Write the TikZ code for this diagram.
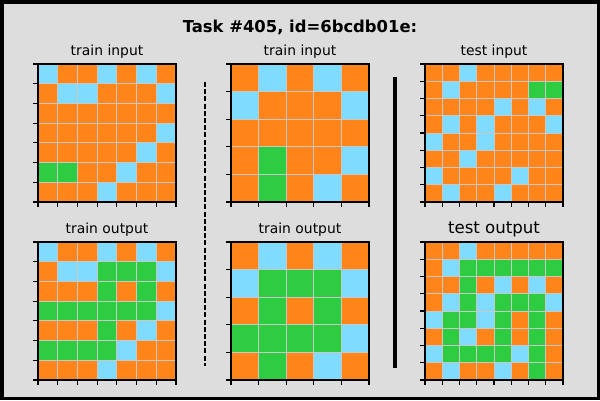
\documentclass[tikz,border=0pt]{standalone}
\usepackage{fontspec}
\setmainfont{DejaVu Sans}
\definecolor{cO}{HTML}{FF851B}
\definecolor{cB}{HTML}{7FDBFF}
\definecolor{cG}{HTML}{2ECC40}
\definecolor{bgc}{HTML}{DDDDDD}
\definecolor{gridc}{HTML}{C8C8C8}
\tikzset{
  gridl/.style={draw=gridc, line width=0.9},
  spine/.style={draw=black, line width=1.1},
  tickl/.style={draw=black, line width=1.1},
  lbl/.style={anchor=base, inner sep=0, font=\fontsize{13.9}{16}\selectfont},
  biglbl/.style={anchor=base, inner sep=0, font=\fontsize{16.6}{19}\selectfont},
  ttl/.style={anchor=base, inner sep=0, font=\fontsize{16.4}{19}\selectfont\bfseries},
}
\newcommand\arcgrid[5]{%
  \pgfmathsetmacro\arcCell{#3/#4}
  \foreach \row [count=\r from 0] in {#5}{
    \foreach \cc [count=\k from 0] in \row{
      \fill[c\cc] ({#1+\k*\arcCell},{#2+\r*\arcCell}) rectangle ++(\arcCell,\arcCell);
    }
  }
  \foreach \i in {0,...,#4}{
    \draw[gridl] ({#1+\i*\arcCell},#2) -- ++(0,#3);
    \draw[gridl] (#1,{#2+\i*\arcCell}) -- ++(#3,0);
  }
  \draw[spine] (#1,#2) rectangle ++(#3,#3);
  \foreach \i in {0,...,#4}{
    \draw[tickl] (#1,{#2+\i*\arcCell}) -- ++(-4.9,0);
    \draw[tickl] ({#1+\i*\arcCell},{#2+#3}) -- ++(0,4.9);
  }
}
\begin{document}
\begin{tikzpicture}[x=1pt,y=-1pt]
\fill[bgc] (0,0) rectangle (600,400);
\useasboundingbox (0,0) rectangle (600,400);
\draw[line width=3.5] (1.75,1.75) rectangle (598.25,398.25);

\node[ttl] (title) at (300,32) {Task \#405, id=6bcdb01e:};

\node[lbl] (l1) at (107,55.7) {train input};
\node[lbl] (l2) at (300,55.7) {train input};
\node[lbl] (l3) at (494,55.7) {test input};
\node[lbl] (l4) at (107,233.7) {train output};
\node[lbl] (l5) at (300,233.7) {train output};
\node[biglbl] (l6) at (494,233.7) {test output};

% train 1 input
\arcgrid{38}{64}{138}{7}{{B,O,O,B,O,B,O},{O,B,B,O,O,O,B},{O,O,O,O,O,O,O},{O,O,O,O,O,O,B},{O,O,O,O,O,B,O},{G,G,O,O,B,O,O},{O,O,O,B,O,O,O}}
% train 1 output
\arcgrid{38}{242}{138}{7}{{B,O,O,B,O,B,O},{O,B,B,G,G,G,B},{O,O,O,G,O,G,O},{G,G,G,G,G,G,B},{O,O,O,G,O,B,O},{G,G,G,G,B,O,O},{O,O,O,B,O,O,O}}
% train 2 input
\arcgrid{231}{64}{138}{5}{{O,B,O,B,O},{B,O,O,O,B},{O,O,O,O,O},{O,G,O,O,B},{O,G,O,B,O}}
% train 2 output
\arcgrid{231}{242}{138}{5}{{O,B,O,B,O},{B,G,G,G,B},{O,G,O,G,O},{G,G,G,G,B},{O,G,O,B,O}}
% test input
\arcgrid{425}{64}{138}{8}{{O,O,B,O,O,O,O,O},{O,B,O,O,O,O,G,G},{O,O,O,O,B,O,B,O},{O,B,O,B,O,O,O,B},{B,O,O,B,O,O,O,O},{O,O,B,O,O,O,O,O},{B,O,O,O,O,B,O,O},{O,B,O,O,B,O,O,O}}
% test output
\arcgrid{425}{242}{138}{8}{{O,O,B,O,O,O,O,O},{O,B,G,G,G,G,G,G},{O,O,G,O,B,O,B,O},{O,B,G,B,G,G,G,B},{B,G,G,B,G,O,G,O},{O,G,B,O,G,O,G,O},{B,G,G,G,G,B,G,O},{O,B,O,O,B,O,G,O}}

\coordinate (d1) at (205,82);
\coordinate (d2) at (205,366);
\draw[line width=1.1, dash pattern=on 5 off 2.2] (d1) -- (d2);
\coordinate (s1) at (395,77);
\coordinate (s2) at (395,368);
\draw[line width=4] (s1) -- (s2);
\end{tikzpicture}
\end{document}
